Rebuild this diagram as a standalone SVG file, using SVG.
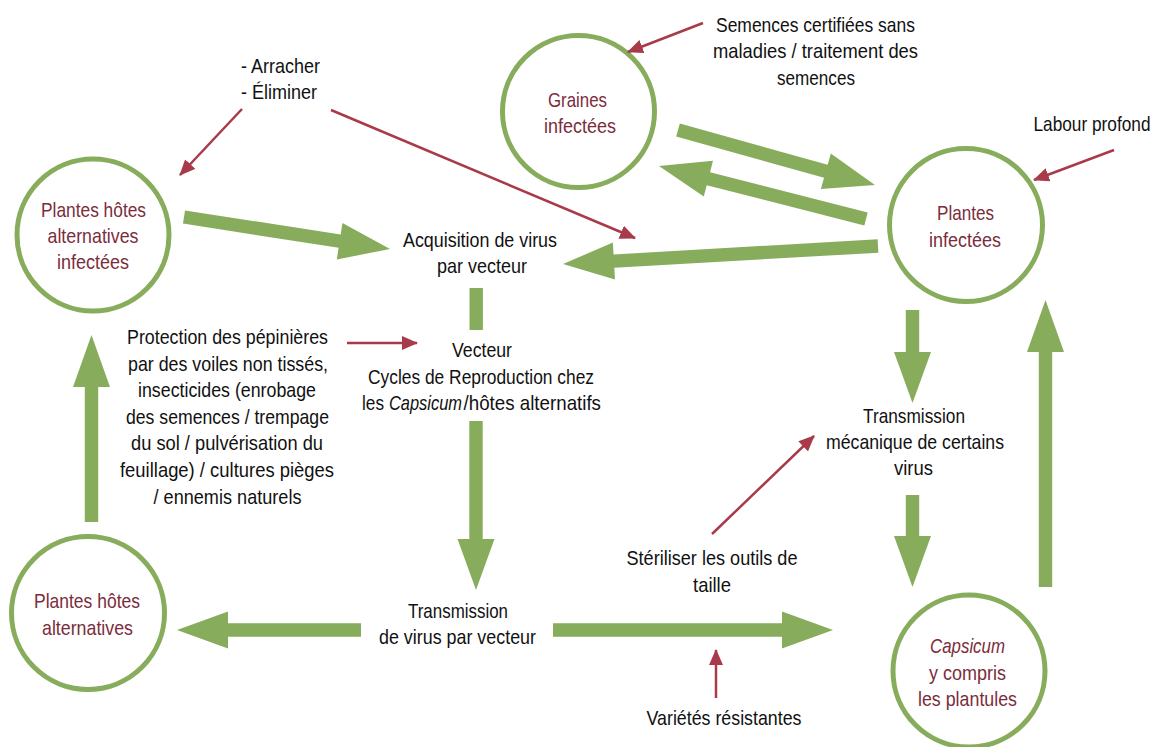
<svg xmlns="http://www.w3.org/2000/svg" width="1155" height="747" viewBox="0 0 1155 747">
  <style>
    text { font-family: "Liberation Sans", Arial, sans-serif; font-size: 21px; text-anchor: middle; }
    .node { fill: none; stroke: #87ad5c; stroke-width: 5; }
    .ntext { fill: #7b2d3b; }
    .label { fill: #111111; }
    .start { text-anchor: start; }
    .flow { fill: #87ad5c; }
    .ctrl { stroke: #a83a4a; stroke-width: 2.5; fill: none; marker-end: url(#redhead); }
    .it { font-style: italic; }
  </style>
  <defs>
    <marker id="redhead" markerUnits="userSpaceOnUse" viewBox="0 0 16 14" refX="15" refY="7" markerWidth="16" markerHeight="14" orient="auto">
      <path d="M0,0 L16,7 L0,14 Z" fill="#a83a4a"/>
    </marker>
  </defs>

  <!-- nodes -->
  <g id="plantes-hotes-infectees">
    <circle class="node" cx="93" cy="235" r="76"/>
    <text class="ntext" x="93.5" y="217" textLength="105" lengthAdjust="spacingAndGlyphs">Plantes hôtes</text>
    <text class="ntext" x="93" y="243" textLength="91" lengthAdjust="spacingAndGlyphs">alternatives</text>
    <text class="ntext" x="93" y="269" textLength="72" lengthAdjust="spacingAndGlyphs">infectées</text>
  </g>
  <g id="graines-infectees">
    <circle class="node" cx="578.5" cy="111.5" r="76"/>
    <text class="ntext" x="577.5" y="107" textLength="59" lengthAdjust="spacingAndGlyphs">Graines</text>
    <text class="ntext" x="580" y="133" textLength="72" lengthAdjust="spacingAndGlyphs">infectées</text>
  </g>
  <g id="plantes-infectees">
    <circle class="node" cx="966" cy="225" r="76.5"/>
    <text class="ntext" x="965.5" y="220" textLength="57" lengthAdjust="spacingAndGlyphs">Plantes</text>
    <text class="ntext" x="965" y="247" textLength="72" lengthAdjust="spacingAndGlyphs">infectées</text>
  </g>
  <g id="plantes-hotes">
    <circle class="node" cx="88" cy="613" r="76.5"/>
    <text class="ntext" x="87" y="608" textLength="106" lengthAdjust="spacingAndGlyphs">Plantes hôtes</text>
    <text class="ntext" x="87.5" y="635" textLength="91" lengthAdjust="spacingAndGlyphs">alternatives</text>
  </g>
  <g id="capsicum">
    <circle class="node" cx="969" cy="671" r="76"/>
    <text class="ntext it" x="967.5" y="653" textLength="75" lengthAdjust="spacingAndGlyphs">Capsicum</text>
    <text class="ntext" x="967.5" y="680" textLength="77" lengthAdjust="spacingAndGlyphs">y compris</text>
    <text class="ntext" x="967.5" y="706" textLength="99" lengthAdjust="spacingAndGlyphs">les plantules</text>
  </g>

  <!-- stage labels -->
  <g id="acquisition">
    <text class="label" x="480" y="247" textLength="154" lengthAdjust="spacingAndGlyphs">Acquisition de virus</text>
    <text class="label" x="482" y="273" textLength="90" lengthAdjust="spacingAndGlyphs">par vecteur</text>
  </g>
  <g id="vecteur">
    <text class="label" x="482" y="357" textLength="60" lengthAdjust="spacingAndGlyphs">Vecteur</text>
    <text class="label" x="481" y="384" textLength="226" lengthAdjust="spacingAndGlyphs">Cycles de Reproduction chez</text>
    <text class="label start" x="362" y="410" textLength="22" lengthAdjust="spacingAndGlyphs">les</text>
    <text class="label start it" x="389" y="410" textLength="73" lengthAdjust="spacingAndGlyphs">Capsicum</text>
    <text class="label start" x="463.5" y="410" textLength="137.5" lengthAdjust="spacingAndGlyphs">/hôtes alternatifs</text>
  </g>
  <g id="transmission-vecteur">
    <text class="label" x="458" y="618" textLength="100" lengthAdjust="spacingAndGlyphs">Transmission</text>
    <text class="label" x="457.5" y="644" textLength="157" lengthAdjust="spacingAndGlyphs">de virus par vecteur</text>
  </g>
  <g id="transmission-mecanique">
    <text class="label" x="914" y="423" textLength="102" lengthAdjust="spacingAndGlyphs">Transmission</text>
    <text class="label" x="915" y="449" textLength="178" lengthAdjust="spacingAndGlyphs">mécanique de certains</text>
    <text class="label" x="913.5" y="475" textLength="39" lengthAdjust="spacingAndGlyphs">virus</text>
  </g>

  <!-- control measures -->
  <g id="arracher">
    <text class="label start" x="241" y="73" textLength="79" lengthAdjust="spacingAndGlyphs">- Arracher</text>
    <text class="label start" x="241" y="99" textLength="76" lengthAdjust="spacingAndGlyphs">- Éliminer</text>
  </g>
  <g id="semences">
    <text class="label" x="815.5" y="32" textLength="199" lengthAdjust="spacingAndGlyphs">Semences certifiées sans</text>
    <text class="label" x="815.5" y="58" textLength="205" lengthAdjust="spacingAndGlyphs">maladies / traitement des</text>
    <text class="label" x="816" y="85" textLength="78" lengthAdjust="spacingAndGlyphs">semences</text>
  </g>
  <g id="labour">
    <text class="label" x="1092" y="131" textLength="117" lengthAdjust="spacingAndGlyphs">Labour profond</text>
  </g>
  <g id="protection">
    <text class="label" x="227.5" y="344" textLength="201" lengthAdjust="spacingAndGlyphs">Protection des pépinières</text>
    <text class="label" x="228" y="371" textLength="200" lengthAdjust="spacingAndGlyphs">par des voiles non tissés,</text>
    <text class="label" x="227" y="397" textLength="178" lengthAdjust="spacingAndGlyphs">insecticides (enrobage</text>
    <text class="label" x="227.5" y="424" textLength="203" lengthAdjust="spacingAndGlyphs">des semences / trempage</text>
    <text class="label" x="227" y="450" textLength="192" lengthAdjust="spacingAndGlyphs">du sol / pulvérisation du</text>
    <text class="label" x="227" y="477" textLength="214" lengthAdjust="spacingAndGlyphs">feuillage) / cultures pièges</text>
    <text class="label" x="227.5" y="504" textLength="148" lengthAdjust="spacingAndGlyphs">/ ennemis naturels</text>
  </g>
  <g id="steriliser">
    <text class="label" x="712" y="565" textLength="171" lengthAdjust="spacingAndGlyphs">Stériliser les outils de</text>
    <text class="label" x="712" y="592" textLength="38" lengthAdjust="spacingAndGlyphs">taille</text>
  </g>
  <g id="varietes">
    <text class="label" x="724" y="725" textLength="155" lengthAdjust="spacingAndGlyphs">Variétés résistantes</text>
  </g>

  <!-- connectors -->
  <g id="connectors">
    <!-- transmission cycle (green block arrows) -->
    <path class="flow" transform="translate(184,217) rotate(8.83)" d="M0,-6.7 H157.5 V-18.5 L208.5,0 L157.5,18.5 V6.7 H0 Z"/>
    <path class="flow" transform="translate(678,130) rotate(15.6)" d="M0,-6.7 H153.5 V-18.5 L204.5,0 L153.5,18.5 V6.7 H0 Z"/>
    <path class="flow" transform="translate(866,219) rotate(194.36)" d="M0,-6.7 H162.7 V-18.5 L213.7,0 L162.7,18.5 V6.7 H0 Z"/>
    <path class="flow" transform="translate(878,246) rotate(176.73)" d="M0,-6.7 H264.5 V-18.5 L315.5,0 L264.5,18.5 V6.7 H0 Z"/>
    <rect class="flow" x="469.5" y="288" width="13.4" height="42"/>
    <path class="flow" transform="translate(476,421) rotate(90)" d="M0,-6.7 H118 V-18.5 L169,0 L118,18.5 V6.7 H0 Z"/>
    <path class="flow" transform="translate(361,630) rotate(180)" d="M0,-6.7 H133 V-18.5 L184,0 L133,18.5 V6.7 H0 Z"/>
    <path class="flow" transform="translate(553,630)" d="M0,-6.7 H229 V-18.5 L280,0 L229,18.5 V6.7 H0 Z"/>
    <path class="flow" transform="translate(912.5,310) rotate(90)" d="M0,-6.7 H42 V-18.5 L93,0 L42,18.5 V6.7 H0 Z"/>
    <path class="flow" transform="translate(912.5,495) rotate(90)" d="M0,-6.7 H41 V-18.5 L92,0 L41,18.5 V6.7 H0 Z"/>
    <path class="flow" transform="translate(1045.5,587) rotate(-90)" d="M0,-6.7 H235 V-18.5 L287,0 L235,18.5 V6.7 H0 Z"/>
    <path class="flow" transform="translate(91.5,522) rotate(-90)" d="M0,-6.7 H135 V-18.5 L187,0 L135,18.5 V6.7 H0 Z"/>

    <!-- control measure pointers (red) -->
    <line class="ctrl" x1="242" y1="109" x2="180" y2="175"/>
    <line class="ctrl" x1="331" y1="110" x2="635" y2="238"/>
    <line class="ctrl" x1="703" y1="23" x2="628" y2="52"/>
    <line class="ctrl" x1="1114" y1="150" x2="1034" y2="180"/>
    <line class="ctrl" x1="347" y1="343" x2="417" y2="343"/>
    <line class="ctrl" x1="712" y1="534" x2="814" y2="436"/>
    <line class="ctrl" x1="716" y1="698" x2="716" y2="650"/>
  </g>
</svg>
